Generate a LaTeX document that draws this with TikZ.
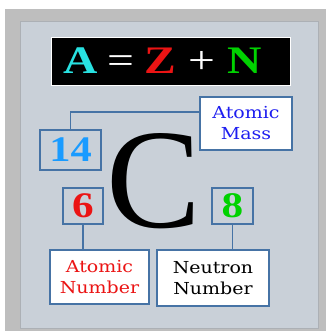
\documentclass[tikz,border=0pt]{standalone}
\usepackage{fontspec}
\setmainfont{Liberation Serif}
\newfontfamily\labelfont[FakeStretch=1.15]{DejaVu Serif}
\usetikzlibrary{positioning}

\definecolor{framegray}{RGB}{190,190,190}
\definecolor{panelgray}{RGB}{201,208,216}
\definecolor{edgeblue}{RGB}{70,115,165}
\definecolor{aqua}{RGB}{40,225,225}
\definecolor{zred}{RGB}{235,20,20}
\definecolor{ngreen}{RGB}{0,210,0}
\definecolor{massblue}{RGB}{30,30,240}
\definecolor{numblue}{RGB}{25,155,255}

\begin{document}
\begin{tikzpicture}[
    x=1pt, y=-1pt,
    every node/.style={inner sep=0pt},
    numbox/.style={
        draw=edgeblue, line width=1.2pt,
        font=\bfseries\fontsize{36}{36}\selectfont
    },
    namebox/.style={
        draw=edgeblue, line width=1.2pt,
        fill=white, align=center,
        font=\labelfont\fontsize{16.5}{21}\selectfont
    },
    link/.style={edgeblue, line width=1.2pt}
]

%% ── Frame and panel ───────────────────────────────────
\useasboundingbox (0,0) rectangle (326,333);
\fill[white] (0,0) rectangle (326,333);
\fill[framegray] (5,9) rectangle (326,331);
\draw[panelgray!60!gray, fill=panelgray, line width=1pt] (20,21) rectangle (318,328);

%% ── Formula banner ────────────────────────────────────
\node[draw=white, line width=0.8pt, fill=black,
      minimum width=239pt, minimum height=48pt] (formula) at (170.5,61)
    {\scalebox{1.22}[1]{\fontsize{39}{39}\selectfont
     \textbf{\color{aqua}A}\hspace{0.21em}{\color{white}=}\hspace{0.21em}%
     \textbf{\color{zred}Z}\hspace{0.26em}{\color{white}+}\hspace{0.24em}%
     \textbf{\color{ngreen}N}\hspace{13pt}}};

%% ── Element symbol ────────────────────────────────────
\node[anchor=base, font=\fontsize{142}{142}\selectfont] (carbon) at (154,227.5) {C};

%% ── Number boxes ──────────────────────────────────────
\node[numbox, minimum width=61pt, minimum height=40pt, text=numblue] (fourteen)
    at (70.5,150) {\scalebox{1.18}[1]{14}};
\node[numbox, minimum width=40pt, minimum height=36pt, text=zred] (six)
    at (83,206) {\scalebox{1.2}[1]{6}};
\node[numbox, minimum width=41pt, minimum height=36pt, text=ngreen] (eight)
    at (232.5,206) {\scalebox{1.2}[1]{8}};

%% ── Name boxes ────────────────────────────────────────
\node[namebox, minimum width=92pt, minimum height=53pt, text=massblue] (mass)
    at (246,123.5) {Atomic\\Mass};
\node[namebox, minimum width=99pt, minimum height=54pt, text=zred] (atomicnum)
    at (99.5,277) {Atomic\\Number};
\node[namebox, minimum width=112pt, minimum height=56pt, text=black] (neutronnum)
    at (213,278) {Neutron\\Number};

%% ── Connectors ────────────────────────────────────────
\coordinate (massjoin) at (200,112);
\draw[link] (fourteen.north) |- (massjoin);
\draw[link] (six.south) -- (six.south |- atomicnum.north);
\draw[link] (eight.south) -- (eight.south |- neutronnum.north);

\end{tikzpicture}
\end{document}
